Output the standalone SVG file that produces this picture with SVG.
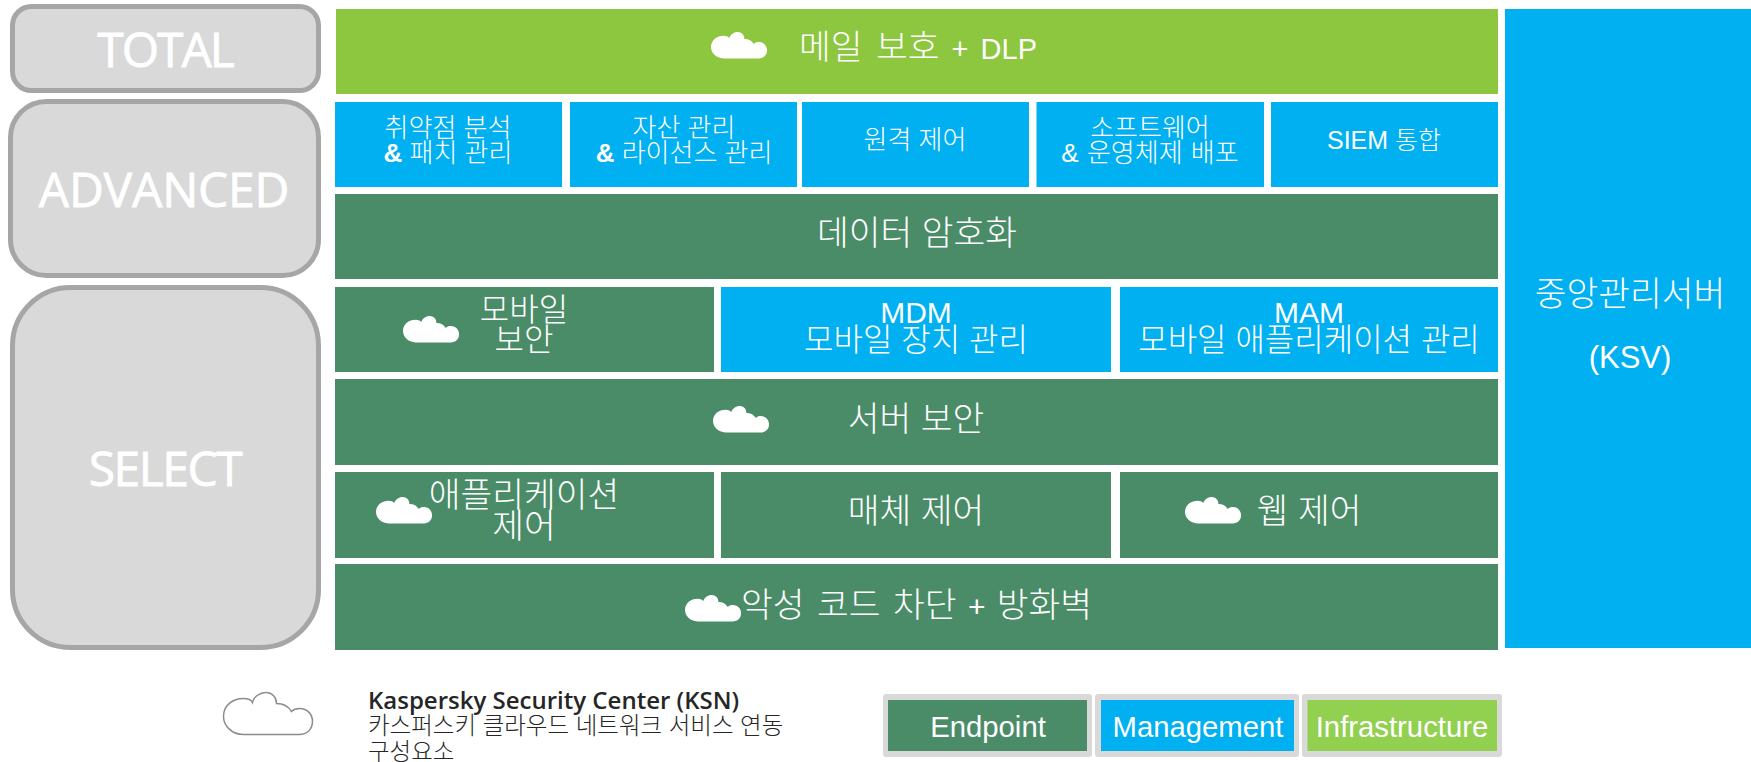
<svg xmlns="http://www.w3.org/2000/svg" xmlns:xlink="http://www.w3.org/1999/xlink" width="1751" height="762" viewBox="0 0 1751 762">
<style>
text{font-family:"Liberation Sans","Noto Sans CJK KR",sans-serif;fill:#fff;text-anchor:middle;font-weight:300}
.g{fill:#4a8c68}.b{fill:#00b0f0}.l{fill:#8dc63f}
.tier{fill:#d9d9d9;stroke:#a6a6a6;stroke-width:5}
.tt{font-family:"Open Sans","Noto Sans",sans-serif;font-size:48px;font-weight:400;letter-spacing:-2px;stroke:#fff;stroke-width:.8}
.s{font-size:26px}.m{font-size:34.500px}.n{font-size:32px}.la{font-size:30px}.lg{font-size:29.300px}
.cap{fill:#262626;text-anchor:start;font-size:23.500px}
.capb{font-family:"Open Sans","Noto Sans",sans-serif;font-weight:600;font-size:24px}
.frame{fill:#d9d9d9}
</style>
<defs>
<path id="cloud" d="M20 42C8 42 0 33 0 24C0 13 9 6 20 6C25 6 28 8 29 10C30 4 37 0 42 0C49 0 53 5 53 11C60 11 65 14 68 19C71 16 74 16 76 16C84 16 89 22 89 29C89 37 83 42 76 42Z"/>
<g id="wc"><use xlink:href="#cloud" transform="scale(.63)" fill="#fff"/></g>
</defs>
<g id="connectors"/>
<g id="tier-total"><rect class="tier" x="12.500" y="6.500" width="306" height="84" rx="19"/><text class="tt" x="165" y="67">TOTAL</text></g>
<g id="tier-advanced"><rect class="tier" x="10.500" y="101.500" width="308" height="174" rx="36"/><text class="tt" x="164" y="207" style="letter-spacing:-.2px">ADVANCED</text></g>
<g id="tier-select"><rect class="tier" x="12.500" y="287.500" width="306" height="360" rx="58"/><text class="tt" x="165" y="486" style="letter-spacing:-1.500px">SELECT</text></g>
<g id="mail"><rect class="l" x="336" y="9" width="1162" height="85"/><use xlink:href="#wc" x="711" y="32"/><text class="m" x="918" y="59" word-spacing="4">메일 보호<tspan font-size="29"> + DLP</tspan></text></g>
<g id="ksv"><rect class="b" x="1505" y="9" width="246" height="639"/><text class="m" x="1630" y="306">중앙관리서버</text><text font-size="31" x="1630" y="368">(KSV)</text></g>
<g id="vuln"><rect class="b" x="335" y="102" width="227" height="85"/><text class="s" x="448" y="137">취약점 분석</text><text class="s" x="448" y="162"><tspan font-weight="700">&amp;</tspan> 패치 관리</text></g>
<g id="asset"><rect class="b" x="570" y="102" width="227" height="85"/><text class="s" x="684" y="137">자산 관리</text><text class="s" x="684" y="162"><tspan font-weight="700">&amp;</tspan> 라이선스 관리</text></g>
<g id="remote"><rect class="b" x="802" y="102" width="227" height="85"/><text class="s" x="915" y="149">원격 제어</text></g>
<g id="software"><rect class="b" x="1036.500" y="102" width="227.500" height="85"/><text class="s" x="1150" y="137">소프트웨어</text><text class="s" x="1150" y="162" word-spacing="1">&amp; 운영체제 배포</text></g>
<g id="siem"><rect class="b" x="1271" y="102" width="227" height="85"/><text font-size="25" x="1384" y="149">SIEM 통합</text></g>
<g id="encryption"><rect class="g" x="335" y="194" width="1163" height="85"/><text class="m" x="917" y="245">데이터 암호화</text></g>
<g id="mobile"><rect class="g" x="335" y="287" width="379" height="85"/><use xlink:href="#wc" x="403" y="316"/><text class="n" x="524" y="321">모바일</text><text class="n" x="524" y="351">보안</text></g>
<g id="mdm"><rect class="b" x="721" y="287" width="390" height="85"/><text class="la" x="916" y="323">MDM</text><text class="n" x="916" y="351">모바일 장치 관리</text></g>
<g id="mam"><rect class="b" x="1120" y="287" width="378" height="85"/><text class="la" x="1309" y="323">MAM</text><text class="n" x="1309" y="351">모바일 애플리케이션 관리</text></g>
<g id="server"><rect class="g" x="335" y="379" width="1163" height="86"/><use xlink:href="#wc" x="713" y="406"/><text class="m" x="916" y="431">서버 보안</text></g>
<g id="appctl"><rect class="g" x="335" y="472" width="379" height="86"/><use xlink:href="#wc" x="376" y="497"/><text class="m" x="524" y="507">애플리케이션</text><text class="m" x="524" y="538">제어</text></g>
<g id="media"><rect class="g" x="721" y="472" width="390" height="86"/><text class="m" x="916" y="523">매체 제어</text></g>
<g id="web"><rect class="g" x="1120" y="472" width="378" height="86"/><use xlink:href="#wc" x="1185" y="497"/><text class="m" x="1309" y="523">웹 제어</text></g>
<g id="malware"><rect class="g" x="335" y="564" width="1163" height="86"/><use xlink:href="#wc" x="685" y="595"/><text class="m" x="916.500" y="617" word-spacing="3">악성 코드 차단<tspan font-size="30"> + </tspan>방화벽</text></g>
<g id="legend-cloud"><use xlink:href="#cloud" x="223.500" y="692.500" fill="#fff" stroke="#8c8c8c" stroke-width="1.500"/></g>
<g id="legend-text"><text class="cap capb" x="368" y="709">Kaspersky Security Center (KSN)</text><text class="cap" x="368" y="734">카스퍼스키 클라우드 네트워크 서비스 연동</text><text class="cap" x="368" y="760">구성요소</text></g>
<g id="legend-endpoint"><rect class="frame" x="883" y="694" width="209" height="63" rx="3"/><rect class="g" x="888" y="700" width="199" height="51"/><text class="lg" x="988" y="737">Endpoint</text></g>
<g id="legend-management"><rect class="frame" x="1095" y="694" width="204" height="63" rx="3"/><rect class="b" x="1101" y="700" width="193" height="51"/><text class="lg" x="1198" y="737">Management</text></g>
<g id="legend-infrastructure"><rect class="frame" x="1302" y="694" width="200" height="63" rx="3"/><rect fill="#92d050" x="1307.500" y="700" width="189.500" height="51"/><text class="lg" x="1402" y="737">Infrastructure</text></g>
</svg>
